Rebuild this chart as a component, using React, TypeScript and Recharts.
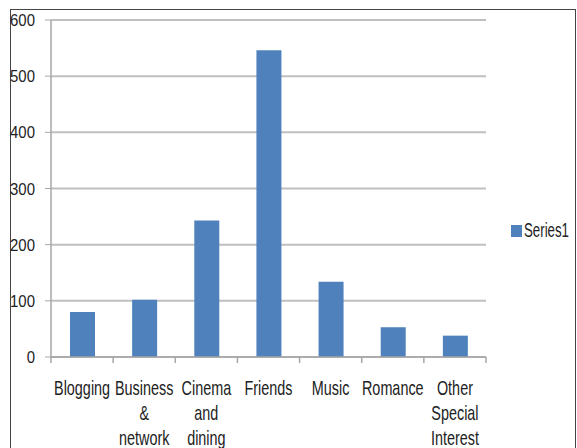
import { BarChart, Bar, XAxis, YAxis, CartesianGrid } from 'recharts'

const categories = ['Blogging', 'Business & network', 'Cinema and dining', 'Friends', 'Music', 'Romance', 'Other Special Interest']
const series1 = [80, 102, 243, 546, 134, 53, 38]
const yTicks = [0, 100, 200, 300, 400, 500, 600]

const data = categories.map((c, i) => ({ name: c, Series1: series1[i] }))

// no narrow font installed, so squeeze Liberation Sans horizontally
const FONT = "'Liberation Sans', Arial, sans-serif"
const BAR_COLOR = '#4f81bd'
const PLOT_W = 435
const BAND = PLOT_W / categories.length
const STRETCH_Y = 1.15

// category label split one word per line, plus tick marks at band edges
const CategoryTick = (props: any) => {
  const { x, y, payload, index } = props
  const words: string[] = String(payload.value).split(' ')
  const axisY = y - 8
  return (
    <g>
      <line x1={x - BAND / 2} y1={axisY} x2={x - BAND / 2} y2={axisY + 6} stroke="#a6a6a6" strokeWidth={1.5} />
      {index === categories.length - 1 && (
        <line x1={x + BAND / 2} y1={axisY} x2={x + BAND / 2} y2={axisY + 6} stroke="#a6a6a6" strokeWidth={1.5} />
      )}
      <text
        transform={`translate(${x},${axisY + 38}) scale(0.8,${STRETCH_Y})`}
        textAnchor="middle"
        fill="#222"
        fontSize={18}
        fontFamily={FONT}
      >
        {words.map((w, i) => (
          <tspan key={i} x={0} dy={i === 0 ? 0 : 25 / STRETCH_Y}>
            {w}
          </tspan>
        ))}
      </text>
    </g>
  )
}

const ValueTick = (props: any) => {
  const { x, y, payload } = props
  return (
    <text
      transform={`translate(${x},${y + 6}) scale(0.88,1)`}
      textAnchor="end"
      fill="#222"
      fontSize={17}
      fontFamily={FONT}
    >
      {payload.value}
    </text>
  )
}

export default function App() {
  return (
    <div style={{ position: 'absolute', left: 0, top: 0, width: 577, height: 448, background: '#fff', overflow: 'hidden' }}>
      <div
        style={{
          position: 'absolute',
          left: 10,
          top: 9,
          width: 566,
          height: 470,
          border: '1px solid #444',
          boxSizing: 'border-box',
        }}
      />
      <div style={{ position: 'absolute', left: 0, top: 0 }}>
        <BarChart width={577} height={448} data={data} margin={{ top: 20, right: 91, left: 10, bottom: 0 }}>
          <CartesianGrid vertical={false} stroke="#bfbfbf" strokeWidth={2} />
          <XAxis
            dataKey="name"
            height={91}
            interval={0}
            tickLine={false}
            axisLine={{ stroke: '#a6a6a6', strokeWidth: 1.5 }}
            tick={<CategoryTick />}
          />
          <YAxis
            width={41}
            domain={[0, 600]}
            ticks={yTicks}
            interval={0}
            tickSize={6}
            tickMargin={10}
            tickLine={{ stroke: '#a6a6a6' }}
            axisLine={{ stroke: '#a6a6a6', strokeWidth: 1.5 }}
            tick={<ValueTick />}
          />
          <Bar dataKey="Series1" fill={BAR_COLOR} barSize={25} isAnimationActive={false} />
        </BarChart>
      </div>
      <div
        style={{
          position: 'absolute',
          left: 511,
          top: 221,
          display: 'flex',
          alignItems: 'center',
          fontFamily: FONT,
          fontSize: 17,
          color: '#222',
        }}
      >
        <span style={{ display: 'inline-block', width: 11, height: 12, background: BAR_COLOR, marginRight: 2 }} />
        <span style={{ display: 'inline-block', transform: `scale(0.78,${STRETCH_Y})`, transformOrigin: 'left center' }}>
          Series1
        </span>
      </div>
    </div>
  )
}
